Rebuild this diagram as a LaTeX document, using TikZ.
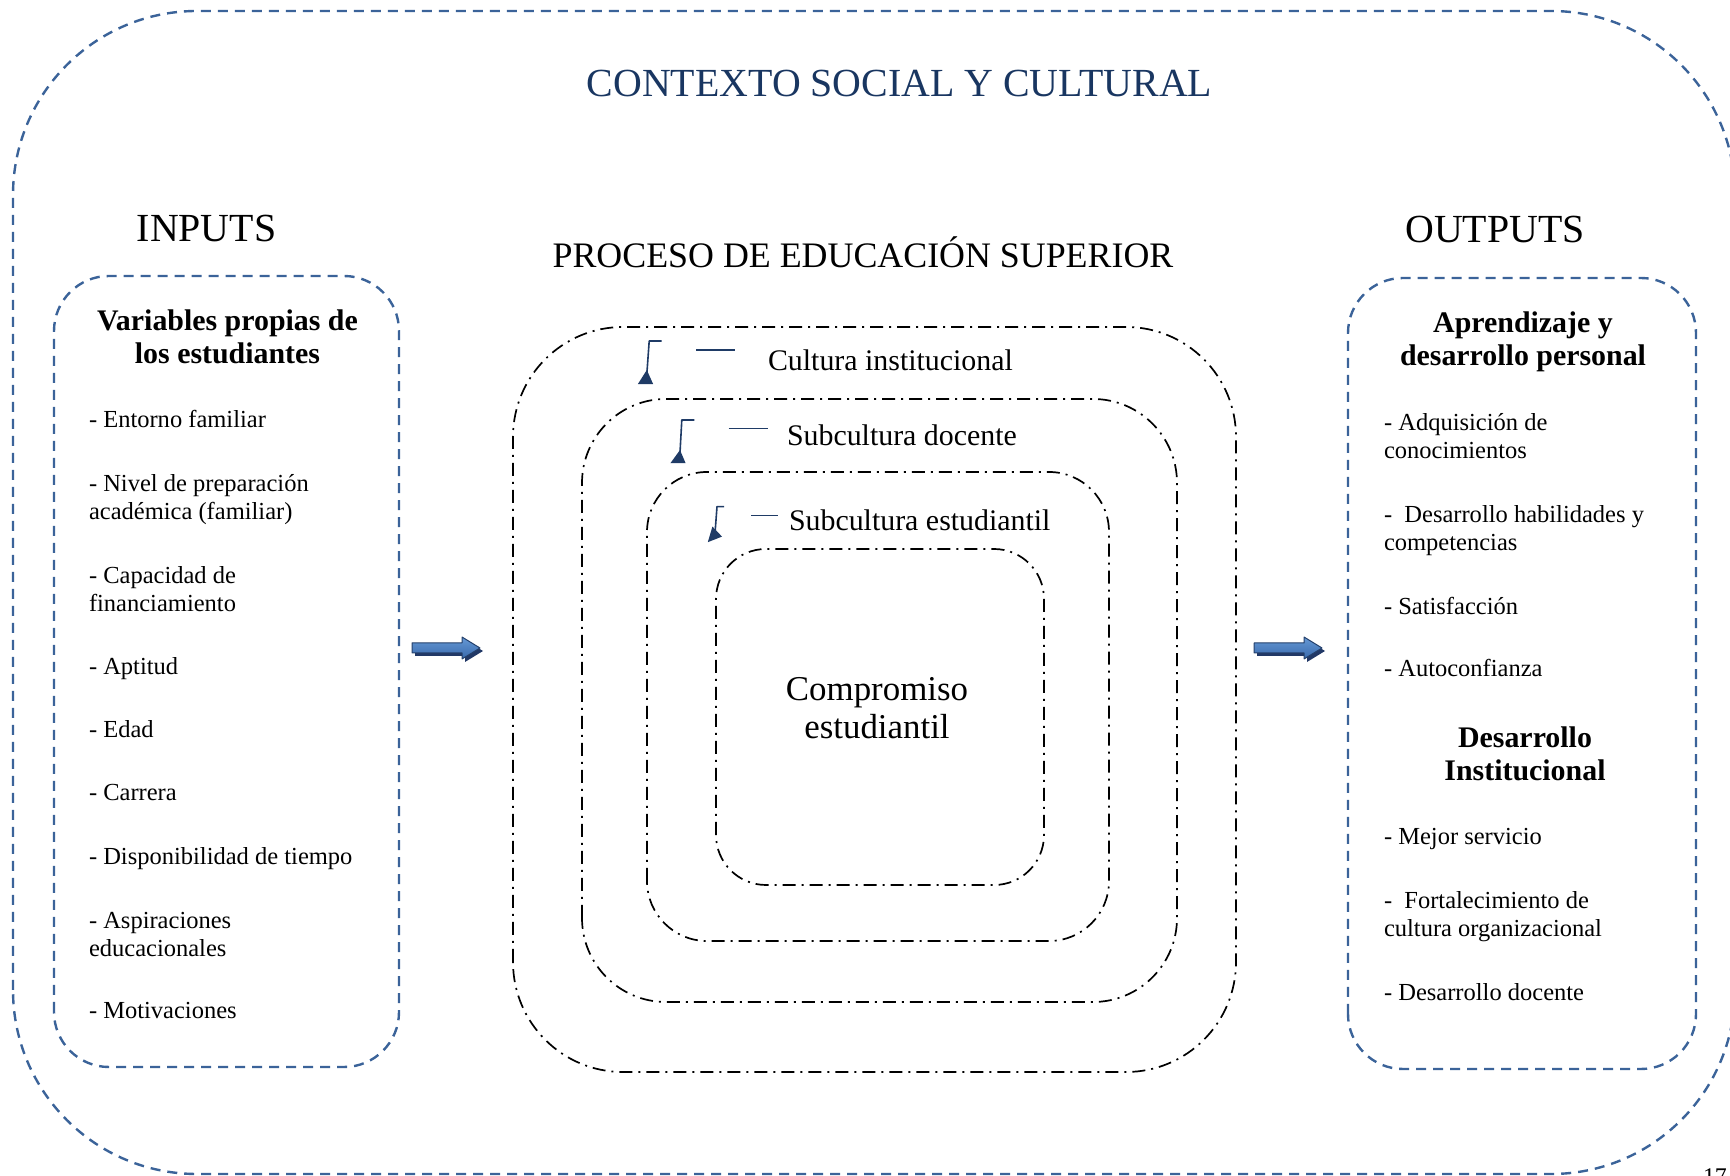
\documentclass[tikz,border=0pt]{standalone}
\usepackage{fontspec}
\setmainfont{Liberation Serif}
\usetikzlibrary{arrows,shapes}

\begin{document}
\begin{tikzpicture}[>=latex,line join=bevel,
  bluedash/.style={line width=1.2bp,dash pattern=on 5bp off 3.5bp},
  ringline/.style={line width=0.85bp,dash pattern=on 6.5bp off 3bp on 1bp off 3bp},
  item/.style={anchor=base west,align=left,inner sep=0pt,font=\fontsize{12.3}{14.5}\selectfont},
  boxtitle/.style={anchor=base,align=center,inner sep=0pt,font=\fontsize{15}{17}\selectfont\bfseries},
  ringlabel/.style={anchor=base west,inner sep=0pt,font=\fontsize{15}{18}\selectfont},
  heading/.style={anchor=base,inner sep=0pt}]
  \pgfsetlinewidth{1bp}
  \useasboundingbox (0bp,0bp) rectangle (865bp,588bp);
  \clip (0bp,0bp) rectangle (865bp,588bp);
%%
  % Frame: contexto
\begin{scope}
  \definecolor{strokecol}{rgb}{0.23,0.39,0.60};
  \pgfsetstrokecolor{strokecol}
  \draw [bluedash,rounded corners=92bp] (6.5bp,1bp) rectangle (867.5bp,582.5bp);
  \draw [bluedash,rounded corners=27.5bp] (27bp,54.5bp) rectangle (199.5bp,450bp);
  \draw [bluedash,rounded corners=27.5bp] (674bp,53.5bp) rectangle (848bp,449bp);
\end{scope}
  % Frame: rings
\begin{scope}
  \definecolor{strokecol}{rgb}{0.0,0.0,0.0};
  \pgfsetstrokecolor{strokecol}
  \draw [ringline,rounded corners=55bp] (256.5bp,52bp) rectangle (618bp,424.5bp);
  \draw [ringline,rounded corners=42bp] (291bp,87bp) rectangle (588.5bp,388.5bp);
  \draw [ringline,rounded corners=30bp] (323.5bp,117.5bp) rectangle (554.5bp,352bp);
  \draw [ringline,rounded corners=25bp] (358bp,145.5bp) rectangle (522bp,313.5bp);
\end{scope}
  % Node: contexto
\begin{scope}
  \definecolor{textcol}{rgb}{0.10,0.21,0.38};
  \node [heading,text=textcol,font=\fontsize{20}{24}\selectfont] (contexto) at (449.75bp,539.6bp) {CONTEXTO SOCIAL Y CULTURAL};
\end{scope}
  % Node: inputs, outputs, proceso
  \node [heading,font=\fontsize{20}{24}\selectfont] (inputs) at (103.25bp,467.2bp) {INPUTS};
  \node [heading,font=\fontsize{20}{24}\selectfont] (outputs) at (747.5bp,466.5bp) {OUTPUTS};
  \node [heading,font=\fontsize{18}{22}\selectfont] (proceso) at (431.5bp,454bp) {PROCESO DE EDUCACIÓN SUPERIOR};
  % Node: variables
  \node [boxtitle] (vartitle) at (113.75bp,406bp) {Variables propias de\\los estudiantes};
  \node [item] (entorno) at (44bp,374bp) {- Entorno familiar};
  \node [item] (nivel) at (44bp,328bp) {- Nivel de preparación\\académica (familiar)};
  \node [item] (financ) at (44bp,282bp) {- Capacidad de\\financiamiento};
  \node [item] (aptitud) at (44bp,250.5bp) {- Aptitud};
  \node [item] (edad) at (44bp,219bp) {- Edad};
  \node [item] (carrera) at (44bp,187.5bp) {- Carrera};
  \node [item] (tiempo) at (44bp,155.5bp) {- Disponibilidad de tiempo};
  \node [item] (aspir) at (44bp,109.5bp) {- Aspiraciones\\educacionales};
  \node [item] (motiv) at (44bp,78.5bp) {- Motivaciones};
  % Node: aprendizaje
  \node [boxtitle] (aprtitle) at (761.5bp,405bp) {Aprendizaje y\\desarrollo personal};
  \node [item] (adquis) at (691.5bp,358.5bp) {- Adquisición de\\conocimientos};
  \node [item] (habil) at (691.5bp,312.5bp) {-\ \ Desarrollo habilidades y\\competencias};
  \node [item] (satisf) at (691.5bp,280.5bp) {- Satisfacción};
  \node [item] (autoconf) at (691.5bp,249.5bp) {- Autoconfianza};
  % Node: institucional
  \node [boxtitle] (insttitle) at (762.5bp,197.5bp) {Desarrollo\\Institucional};
  \node [item] (servicio) at (691.5bp,165.5bp) {- Mejor servicio};
  \node [item] (fortal) at (691.5bp,119.5bp) {-\ \ Fortalecimiento de\\cultura organizacional};
  \node [item] (docente) at (691.5bp,87.5bp) {- Desarrollo docente};
  % Node: rings
  \node [ringlabel] (cultinst) at (383.5bp,402.5bp) {Cultura institucional};
  \node [ringlabel] (subdoc) at (393bp,365bp) {Subcultura docente};
  \node [ringlabel] (subest) at (394bp,322.6bp) {Subcultura estudiantil};
  \node [heading,align=center,font=\fontsize{17.5}{19.5}\selectfont] (compromiso) at (438.5bp,218.5bp) {Compromiso\\estudiantil};
  % Marks: rings
\begin{scope}
  \definecolor{strokecol}{rgb}{0.12,0.23,0.40};
  \pgfsetstrokecolor{strokecol}
  \pgfsetfillcolor{strokecol}
  \pgfsetlinewidth{0.8bp}
  \draw (330.8bp,417.5bp) -- (324.6bp,417.5bp) -- (323.2bp,398bp);
  \fill (318.9bp,395.9bp) -- (326.6bp,395.9bp) -- (323.4bp,403bp) -- cycle;
  \draw (348bp,412.9bp) -- (367.7bp,412.9bp);
  \draw (347.2bp,378bp) -- (340.9bp,378bp) -- (339.8bp,358bp);
  \fill (335.2bp,356.4bp) -- (342.8bp,356.4bp) -- (340bp,363bp) -- cycle;
  \draw (364.3bp,373.7bp) -- (383.8bp,373.7bp);
  \draw (362bp,334.7bp) -- (358.5bp,334.7bp) -- (357.4bp,320bp);
  \fill (353.9bp,316.9bp) -- (361bp,319.7bp) -- (356.2bp,324.7bp) -- cycle;
  \draw (375.5bp,330.2bp) -- (388.8bp,330.2bp);
\end{scope}
  % Edge: inputs -> proceso, proceso -> outputs
\begin{scope}
  \definecolor{shadowcol}{rgb}{0.13,0.22,0.40};
  \definecolor{lightcol}{rgb}{0.40,0.60,0.84};
  \definecolor{darkcol}{rgb}{0.22,0.41,0.67};
  \definecolor{linecol}{rgb}{0.14,0.25,0.42};
  \fill [shadowcol] (207.5bp,265bp) -- (232.5bp,265bp) -- (232.5bp,268bp) -- (241.5bp,262.5bp) -- (232.5bp,257bp) -- (232.5bp,260bp) -- (207.5bp,260bp) -- cycle;
  \shadedraw [top color=lightcol,bottom color=darkcol,draw=linecol,line width=0.5bp] (206bp,266.5bp) -- (231bp,266.5bp) -- (231bp,269.5bp) -- (240bp,264bp) -- (231bp,258.5bp) -- (231bp,261.5bp) -- (206bp,261.5bp) -- cycle;
  \fill [shadowcol] (628.5bp,265bp) -- (653.5bp,265bp) -- (653.5bp,268bp) -- (662.5bp,262.5bp) -- (653.5bp,257bp) -- (653.5bp,260bp) -- (628.5bp,260bp) -- cycle;
  \shadedraw [top color=lightcol,bottom color=darkcol,draw=linecol,line width=0.5bp] (627bp,266.5bp) -- (652bp,266.5bp) -- (652bp,269.5bp) -- (661bp,264bp) -- (652bp,258.5bp) -- (652bp,261.5bp) -- (627bp,261.5bp) -- cycle;
\end{scope}
  % Node: page
  \node [anchor=base west,inner sep=0pt,font=\fontsize{12}{14}\selectfont] (pagenum) at (851bp,-4bp) {17};
%
\end{tikzpicture}
\end{document}
